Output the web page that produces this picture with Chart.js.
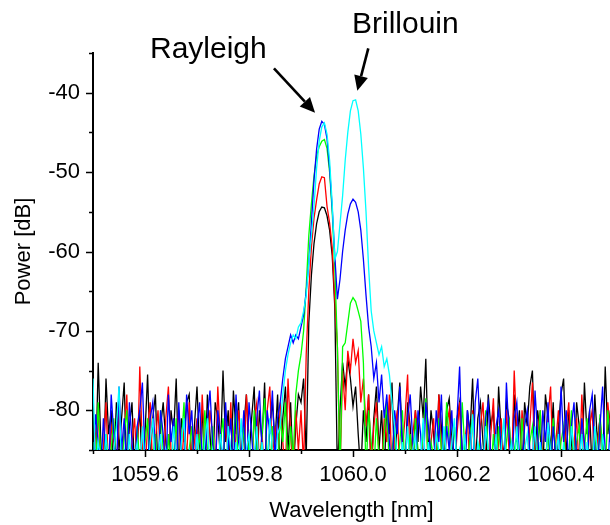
<!DOCTYPE html>
<html>
<head>
<meta charset="utf-8">
<script src="https://cdn.jsdelivr.net/npm/chart.js@4/dist/chart.umd.min.js"></script>
<style>
  html, body { margin: 0; padding: 0; background: #fff; overflow: hidden; }
  #wrap { width: 610px; height: 525px; }
</style>
</head>
<body>
<div id="wrap"><canvas id="spectrum" width="610" height="525"></canvas></div>
<script>
// =========================
// Data (OSA spectra, dB)
// =========================

// sampling grid of the analyser
const START_NM = 1059.5;
const STEP_NM = 0.005;

const xTicks = [1059.5, 1059.6, 1059.7, 1059.8, 1059.9, 1060.0, 1060.1, 1060.2, 1060.3, 1060.4];
const yTicks = [-85, -80, -75, -70, -65, -60, -55, -50, -45, -40, -35];

const powerBlack = [
  -82, -88, -74, -84, -88, -76, -83, -80, -88, -79,
  -85, -81, -76.5, -88, -82, -79, -88, -84, -80, -88,
  -83, -75.5, -86, -81, -78, -88, -82, -79, -84, -88,
  -80, -83, -76, -88, -81, -84, -79, -78, -88, -82,
  -77, -85, -80, -88, -78, -83, -88, -79, -81, -86,
  -75, -84, -80, -88, -77.5, -83, -79, -88, -82, -78,
  -86, -81, -77, -88, -80, -84, -76.5, -88, -82, -79,
  -84, -78, -88, -81, -77, -85, -79, -88, -82, -78,
  -79, -76, -86, -69, -63, -59, -56.5, -55, -54.4, -54.5,
  -55.5, -57.3, -60.5, -67, -88, -80, -74, -77, -73.5, -76,
  -79.5, -77, -83, -88, -80, -84, -78, -88, -81, -77,
  -85, -80, -88, -79, -83, -76.5, -88, -81, -76.5, -84,
  -88, -79, -82, -88, -80, -84, -77, -81, -73.5, -86,
  -80, -83, -88, -78, -82, -88, -80, -78.5, -84, -88,
  -81, -79, -85, -88, -80, -83, -76, -88, -81, -79,
  -84, -88, -78, -82, -80, -88, -77, -83, -86, -79,
  -81, -88, -78, -84, -80, -88, -79, -82, -77, -75,
  -86, -80, -83, -88, -78, -81, -85, -79, -88, -82,
  -78, -76, -86, -80, -84, -88, -79, -82, -88, -76.5,
  -83, -80, -88, -78, -84, -81, -88, -74.5, -83, -80,
  -86,
];

const powerRed = [
  -88, -83, -80, -88, -85, -79, -88, -82, -84, -88,
  -80, -86, -83, -78, -88, -84, -81, -88, -74.5, -85,
  -88, -82, -79, -88, -84, -80, -86, -88, -81, -77,
  -85, -88, -83, -80, -88, -82, -86, -79, -88, -84,
  -81, -88, -78, -85, -88, -80, -83, -88, -77, -84,
  -88, -81, -86, -79, -88, -83, -80, -85, -88, -78,
  -84, -88, -81, -79, -87, -83, -88, -80, -77, -86,
  -82, -88, -79, -84, -88, -76, -83, -88, -80, -85,
  -80, -87, -73, -65, -59.5, -55.8, -53.5, -51.5, -50.6, -50.7,
  -54.3, -56.4, -59.5, -66, -72, -88, -75, -80, -72.5, -75,
  -71, -74, -72.5, -79, -76, -82, -78, -88, -82, -79,
  -86, -88, -81, -84, -78, -88, -83, -80, -88, -85,
  -81, -75.5, -88, -83, -80, -86, -88, -82, -79, -88,
  -84, -81, -88, -78, -85, -88, -82, -80, -86, -88,
  -83, -79, -88, -84, -81, -88, -80, -85, -88, -82,
  -79, -86, -88, -83, -78.5, -88, -84, -81, -88, -80,
  -85, -88, -75, -83, -88, -80, -84, -88, -82, -76.5,
  -88, -83, -80, -86, -88, -81, -77, -88, -84, -80,
  -86, -88, -82, -79, -88, -84, -81, -88, -78, -85,
  -88, -82, -80, -88, -84, -81, -86, -88, -79, -83,
  -88,
];

const powerGreen = [
  -84, -88, -79, -86, -88, -83, -88, -85, -81, -88,
  -86, -88, -83, -80, -88, -85, -88, -82, -87, -88,
  -84, -81, -88, -86, -83, -88, -80, -85, -88, -83,
  -88, -86, -81, -88, -84, -79, -88, -85, -82, -88,
  -86, -83, -88, -80, -85, -88, -82, -87, -88, -84,
  -81, -88, -85, -88, -83, -79.5, -88, -86, -82, -88,
  -84, -88, -80, -85, -88, -83, -78.5, -86, -88, -82,
  -85, -88, -81, -84, -79, -88, -82, -86, -78, -75,
  -73, -70, -64.5, -58, -54, -50.5, -48, -46.8, -46.1, -45.9,
  -47, -50, -55, -62, -72, -88, -72, -71.5, -69, -66.5,
  -65.8, -66.3, -67.5, -68.8, -74, -88, -80, -84, -88, -81,
  -86, -88, -83, -79, -88, -85, -82, -88, -84, -80,
  -88, -86, -83, -88, -81, -85, -88, -82, -78.5, -88,
  -84, -86, -88, -81, -85, -88, -79, -84, -88, -82,
  -86, -88, -79, -85, -88, -83, -81, -88, -86, -84,
  -88, -80, -85, -88, -83, -88, -82, -86, -88, -84,
  -81, -88, -85, -83, -88, -81, -86, -88, -84, -82,
  -88, -85, -80, -88, -86, -83, -88, -81, -85, -88,
  -84, -82, -88, -86, -80, -88, -84, -82, -88, -85,
  -81, -88, -86, -83, -88, -80.5, -85, -88, -80, -84,
  -88,
];

const powerBlue = [
  -88, -80.5, -84, -88, -81, -86, -88, -78, -83, -88,
  -77, -85, -81, -88, -79, -84, -88, -82, -80, -76.5,
  -86, -88, -81, -79, -85, -88, -80, -83, -88, -78,
  -84, -81, -88, -79, -86, -88, -78, -83, -80, -88,
  -82, -79, -86, -88, -81, -77.5, -84, -88, -80, -83,
  -88, -79, -85, -81, -88, -78, -84, -86, -80, -88,
  -79, -83, -88, -81, -77.5, -85, -88, -80, -83, -77.5,
  -86, -81, -79, -76, -73.5, -72, -70.5, -71.5, -70.5, -71,
  -69.5, -68, -65, -61.5, -56.4, -51, -47.1, -44.6, -43.6, -44,
  -45.8, -49.5, -54.5, -60.5, -66, -63.5, -60, -57.3, -55.3, -54,
  -53.4, -53.8, -55, -57.3, -61, -65.5, -69.5, -72, -76, -74,
  -79, -75.5, -81, -78, -84, -88, -80, -83, -77, -85,
  -88, -81, -78, -84, -88, -80, -83, -88, -79, -82,
  -86, -88, -80, -84, -78, -88, -82, -85, -80, -88,
  -81, -74.5, -86, -88, -80, -83, -88, -79, -76, -84,
  -88, -81, -79, -86, -88, -82, -80, -85, -88, -76.5,
  -83, -88, -81, -79, -86, -88, -82, -80, -85, -88,
  -77.5, -83, -88, -80, -84, -79, -88, -82, -86, -88,
  -77, -84, -80, -88, -82, -79, -86, -88, -81, -84,
  -88, -80, -78, -85, -88, -82, -77, -86, -88, -81,
  -84,
];

const powerCyan = [
  -76, -88, -84, -86, -88, -83, -87, -88, -85, -82,
  -77, -88, -85, -87, -83, -88, -86, -84, -88, -82,
  -87, -88, -84, -81, -88, -86, -83, -88, -85, -87,
  -88, -82, -86, -88, -84, -81, -88, -85, -87, -88,
  -83, -86, -88, -84, -81, -88, -85, -87, -88, -83,
  -86, -88, -82, -85, -88, -84, -87, -81, -88, -85,
  -83, -88, -86, -82, -88, -84, -87, -88, -81, -85,
  -88, -83, -82, -78, -75, -73, -71.5, -70.5, -71, -69.5,
  -69, -67.5, -65.5, -61.5, -58, -54.3, -49.5, -46.1, -44.3, -43.8,
  -45.2, -48.5, -54, -61, -60, -56.5, -53, -48.5, -45, -42.3,
  -41, -40.9, -42.3, -45.2, -49.5, -55, -62, -67.5, -70, -71.5,
  -73, -72, -74.5, -73.5, -75.5, -79, -82, -86, -88, -84,
  -87, -82, -88, -85, -83, -88, -86, -81, -88, -84,
  -87, -88, -83, -85, -88, -82, -86, -88, -84, -81,
  -88, -85, -87, -83, -88, -86, -80.5, -88, -84, -86,
  -88, -82, -85, -88, -87, -83, -88, -85, -81, -88,
  -86, -84, -88, -82, -87, -88, -85, -83, -88, -86,
  -82, -88, -84, -87, -88, -81.5, -85, -88, -86, -83,
  -88, -84, -87, -88, -82, -85, -88, -86, -83, -88,
  -84, -87, -88, -82, -85, -88, -83, -86, -88, -84,
  -81,
];

const wavelengths = powerBlack.map((_, i) => +(START_NM + i * STEP_NM).toFixed(3));

// =========================
// Helpers
// =========================

const FONT = "'Liberation Sans', Arial, Helvetica, sans-serif";

function toPoints(values) {
  return values.map((v, i) => ({ x: wavelengths[i], y: v }));
}

function isMajorX(v) {
  return Math.round(v * 10) % 2 === 0;
}

function isMajorY(v) {
  return Math.round(v) % 10 === 0;
}

function makeSeries(label, values, color, order) {
  return {
    label,
    data: toPoints(values),
    borderColor: color,
    backgroundColor: color,
    borderWidth: 1.3,
    pointRadius: 0,
    tension: 0,
    order,
  };
}

// ticks drawn by hand: major 7px, minor 4px, outside
const axisTicks = {
  id: "axisTicks",
  afterDraw(chart) {
    const { ctx, chartArea, scales } = chart;
    const { x, y } = scales;
    ctx.save();
    ctx.strokeStyle = "#000";
    ctx.lineWidth = 1.5;
    ctx.beginPath();
    x.ticks.forEach((t) => {
      const px = Math.round(x.getPixelForValue(t.value)) + 0.5;
      const len = isMajorX(t.value) ? 7 : 4;
      ctx.moveTo(px, chartArea.bottom);
      ctx.lineTo(px, chartArea.bottom + len);
    });
    y.ticks.forEach((t) => {
      const py = Math.round(y.getPixelForValue(t.value)) + 0.5;
      const len = isMajorY(t.value) ? 7 : 4;
      ctx.moveTo(chartArea.left, py);
      ctx.lineTo(chartArea.left - len, py);
    });
    ctx.stroke();
    ctx.restore();
  },
};

function drawArrow(ctx, x0, y0, x1, y1) {
  const ang = Math.atan2(y1 - y0, x1 - x0);
  const head = 15;
  const half = 7;
  const bx = x1 - head * Math.cos(ang);
  const by = y1 - head * Math.sin(ang);
  ctx.beginPath();
  ctx.moveTo(x0, y0);
  ctx.lineTo(bx, by);
  ctx.stroke();
  ctx.beginPath();
  ctx.moveTo(x1, y1);
  ctx.lineTo(bx + half * Math.sin(ang), by - half * Math.cos(ang));
  ctx.lineTo(bx - half * Math.sin(ang), by + half * Math.cos(ang));
  ctx.closePath();
  ctx.fill();
}

// peak labels, anchored in data units
const peakLabels = {
  id: "peakLabels",
  afterDatasetsDraw(chart) {
    const { ctx, scales } = chart;
    const { x, y } = scales;
    const px = (nm) => x.getPixelForValue(nm);
    const py = (db) => y.getPixelForValue(db);

    ctx.save();
    ctx.fillStyle = "#000";
    ctx.strokeStyle = "#000";
    ctx.lineWidth = 2.6;
    ctx.font = "30px " + FONT;
    ctx.textAlign = "left";
    ctx.textBaseline = "alphabetic";
    ctx.fillText("Rayleigh", px(1059.6096), py(-35.69));
    ctx.fillText("Brillouin", px(1059.998), py(-32.48));

    drawArrow(ctx, px(1059.848), py(-36.93), px(1059.927), py(-42.52));
    drawArrow(ctx, px(1060.0294), py(-34.41), px(1060.0083), py(-39.75));
    ctx.restore();
  },
};

// =========================
// Chart
// =========================

function initSpectrum() {
  const canvas = document.getElementById("spectrum");

  new Chart(canvas, {
    type: "line",
    data: {
      datasets: [
        makeSeries("black", powerBlack, "#000000", 5),
        makeSeries("red", powerRed, "#ff0000", 4),
        makeSeries("green", powerGreen, "#00ff00", 3),
        makeSeries("blue", powerBlue, "#0000ff", 2),
        makeSeries("cyan", powerCyan, "#00ffff", 1),
      ],
    },
    options: {
      responsive: false,
      animation: false,
      devicePixelRatio: 1,
      layout: { padding: { top: 53, right: 0, bottom: 0, left: 0 } },
      plugins: {
        legend: { display: false },
        tooltip: { enabled: false },
      },
      scales: {
        x: {
          type: "linear",
          min: 1059.5,
          max: 1060.4942,
          afterBuildTicks: (scale) => {
            scale.ticks = xTicks.map((v) => ({ value: v }));
          },
          afterFit: (scale) => {
            scale.height = 75;
          },
          grid: { drawOnChartArea: false, drawTicks: true, tickLength: 7, tickColor: "rgba(0,0,0,0)" },
          border: { display: true, color: "#000", width: 2 },
          ticks: {
            color: "#000",
            font: { family: FONT, size: 22 },
            padding: 5,
            maxRotation: 0,
            autoSkip: false,
            callback: (v) => (isMajorX(v) ? v.toFixed(1) : ""),
          },
          title: {
            display: true,
            text: "Wavelength [nm]",
            color: "#000",
            font: { family: FONT, size: 22 },
            padding: { top: 0, bottom: 1 },
          },
        },
        y: {
          type: "linear",
          min: -85,
          max: -35,
          afterBuildTicks: (scale) => {
            scale.ticks = yTicks.map((v) => ({ value: v }));
          },
          afterFit: (scale) => {
            scale.width = 93;
          },
          grid: { drawOnChartArea: false, drawTicks: true, tickLength: 7, tickColor: "rgba(0,0,0,0)" },
          border: { display: true, color: "#000", width: 2 },
          ticks: {
            color: "#000",
            font: { family: FONT, size: 22 },
            padding: 6,
            autoSkip: false,
            callback: (v) => (isMajorY(v) ? String(v) : ""),
          },
          title: {
            display: true,
            text: "Power [dB]",
            color: "#000",
            font: { family: FONT, size: 22 },
            padding: { top: 11, bottom: 0 },
          },
        },
      },
    },
    plugins: [axisTicks, peakLabels],
  });
}

document.addEventListener("DOMContentLoaded", initSpectrum);
</script>
</body>
</html>
